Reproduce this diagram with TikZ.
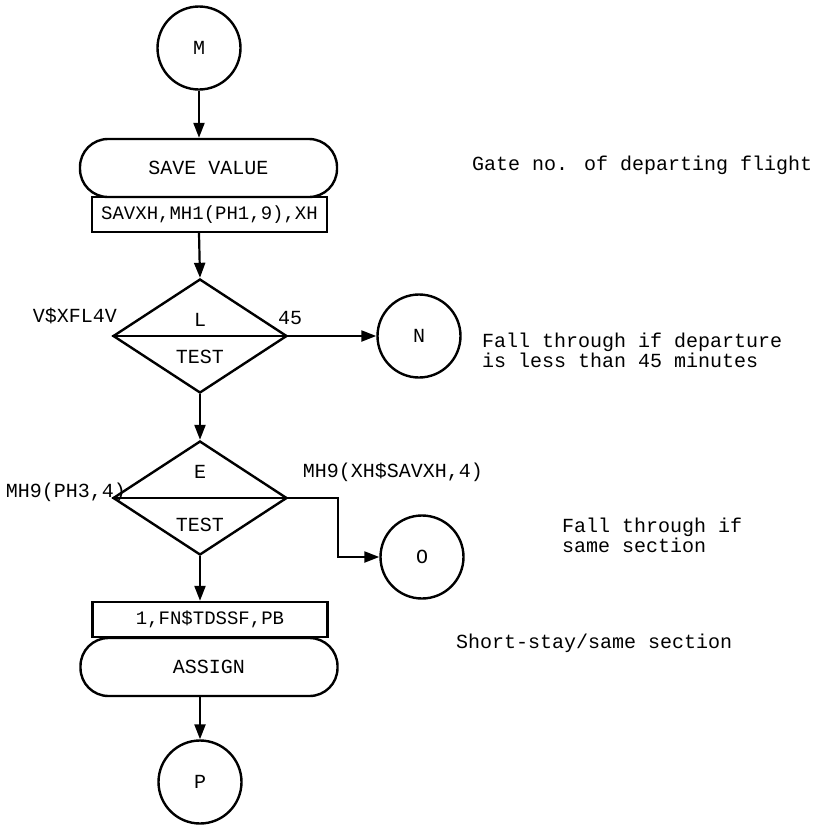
\documentclass[tikz,border=0pt]{standalone}
\usepackage{fontspec}
\setmainfont{Liberation Mono}
\setmonofont{Liberation Mono}
\usetikzlibrary{shapes.geometric,arrows.meta}
\begin{document}
\begin{tikzpicture}[x=1pt,y=-1pt,
  every node/.style={font=\fontsize{20}{20}\selectfont},
  ln/.style={line width=2.4pt},
  arr/.style={line width=2.2pt,-{Triangle[length=15pt,width=11pt]}},
  conn/.style={draw,circle,line width=2.4pt,minimum size=83pt,inner sep=0pt},
  blk/.style={draw,rectangle,rounded corners=28pt,line width=2.4pt,minimum width=257pt,minimum height=58pt,inner sep=0pt},
  opnd/.style={draw,rectangle,line width=2.4pt,minimum width=235pt,minimum height=35pt,inner sep=0pt,font=\fontsize{19}{20}\selectfont},
  test/.style={draw,diamond,line width=2.4pt,minimum width=174pt,minimum height=114pt,inner sep=0pt},
  lbl/.style={inner sep=0pt},
  note/.style={inner sep=0pt,anchor=west,align=left}]
\useasboundingbox (0,0) rectangle (817,825);
% nodes
\node[conn] (m) at (199,48) {M};
\node[blk] (sv) at (208.5,168) {SAVE VALUE};
\node[opnd] (svo) at (209.5,214.5) {SAVXH,MH1(PH1,9),XH};
\node[test] (d1) at (200,336) {};
\node[lbl] (d1t) at (200,320) {L};
\node[lbl] (d1b) at (200,357) {TEST};
\node[lbl] (d1l) at (75,316) {V\$XFL4V};
\node[lbl] (d1r) at (290,318) {45};
\node[conn] (n) at (419,336) {N};
\node[test] (d2) at (200,498) {};
\node[lbl] (d2t) at (200,472) {E};
\node[lbl] (d2b) at (200,525) {TEST};
\node[lbl] (d2l) at (66,492) {MH9(PH3,4)};
\node[lbl] (d2r) at (393,472) {MH9(XH\$SAVXH,4)};
\node[conn] (o) at (422,557) {O};
\node[opnd] (aso) at (210,619.5) {1,FN\$TDSSF,PB};
\node[blk] (as) at (209,667) {ASSIGN};
\node[conn] (p) at (200,782) {P};
% notes
\node[note] (n1) at (472,165) {Gate no. of departing flight};
\node[note] (n2) at (482,350) {Fall through if departure\\is less than 45 minutes};
\node[note] (n3) at (562,535) {Fall through if\\same section};
\node[note] (n4) at (456,643) {Short-stay/same section};
% connectors
\draw[ln] (d1.west) -- (d1.east);
\draw[ln] (d2.west) -- (d2.east);
\draw[arr] (m.south) -- (m.south |- sv.north);
\draw[arr] (m.south |- svo.south) -- (d1.north);
\draw[arr] (d1.east) -- (n.west);
\draw[arr] (d1.south) -- (d2.north);
\draw[arr] (d2.east) -- ++(50,0) |- (o.west);
\draw[arr] (d2.south) -- (d2.south |- aso.north);
\draw[arr] (p.north |- as.south) -- (p.north);
\end{tikzpicture}
\end{document}
